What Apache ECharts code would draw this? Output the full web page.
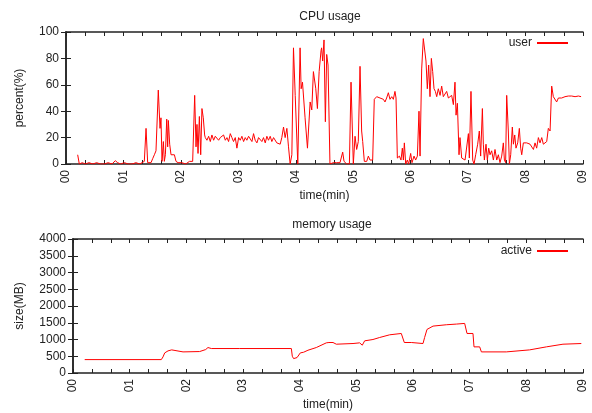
<!DOCTYPE html>
<html>
<head>
<meta charset="utf-8">
<script src="https://cdn.jsdelivr.net/npm/echarts@6/dist/echarts.min.js"></script>
<style>
  html, body { margin: 0; padding: 0; background: #fff; }
  #chart { width: 592px; height: 413px; }
</style>
</head>
<body>
<div id="chart"></div>
<script>
// time in seconds
const cpuTime = [
  12.2, 13.9, 17, 20, 24, 28, 32, 36, 40, 44, 48, 51.5, 54, 57, 61, 65, 69, 73, 77, 79.4,
  81.8, 83.6, 85.3, 87, 88.8, 90.5, 92.3, 94, 96.4, 98.2, 99.2, 100.3, 101.7, 102.7, 103.8, 105.2,
  106.2, 106.9, 108.3, 109.7, 111.4, 113.2, 114.9, 117, 119, 121, 123, 125, 127, 129, 132.3,
  134.4, 135.8, 136.8, 137.9, 139.3, 140.7, 142.0, 143.4, 144.8,
  145.5, 147.2, 149.0, 150.7, 152.4, 154.2, 155.9, 157.7, 159.4, 161.1, 162.9, 164.6, 166.4,
  168.1, 169.8, 171.6, 173.3, 175.0, 176.8, 178.5, 180.3, 182.0, 183.7, 185.5, 187.2, 188.9,
  190.7, 192.4, 194.2, 195.9, 197.6, 199.4, 201.1, 202.9, 204.6, 206.3, 208.1, 209.8, 211.5,
  213.3, 215.0, 216.8, 218.5, 220.2, 222.0, 223.7, 225.4, 227.2, 228.9, 230.7, 232.4, 234.1,
  235.9, 237.6, 239.4, 242.1, 244.5, 245.6, 247.0, 249.7, 252.2, 255.0, 256.7, 258.4, 260.9,
  262.6, 264.4, 266.4,
  267.0, 268.1, 269.5, 270.9, 272.3, 273.7, 275.7, 277.5, 279.2, 281, 282.7, 284.5, 286.2,
  287.9, 289, 290.4, 293.2, 296, 297.7, 300.1, 301.9, 303.6, 305.3, 307.1, 308.8, 309.9,
  311.6, 314.1, 315.8, 317.5, 320.3, 322, 324.5, 328, 331.5, 333.2, 334.9, 336.7, 338.4,
  340.2, 341.9, 343.6, 344.7, 346.1, 348.2, 349.9, 351.3, 352.4, 353.4, 354.8, 356.5, 357.9,
  360, 361.4, 363.5, 365.2, 367, 368.7, 369.8, 371.5, 373.2, 375, 376, 377.4, 378.8, 380.2,
  381.6, 383, 384.4, 385.8, 387.2, 388.9, 390.7, 392.4, 394.1, 395.9, 397.6, 399.4,
  401.1, 402.8, 404.6, 406.3, 407.4, 408.8, 410.5, 411.5, 413.3, 415, 416.8, 418.5, 420.3,
  421.3, 423, 424.8, 426.2, 427.9, 430, 431.7, 433.1, 434.9, 435.9, 437, 438.7, 440.1, 441.5,
  442.9, 444.6, 446.4, 448.1, 449.9, 451.6, 453.3, 455.1, 456.8, 457.9, 459.2, 460.3, 462,
  463.1, 464.5, 466.2, 467.3, 468.7, 470, 471.8, 473.5, 474.9, 476, 477.7, 479.4, 481.2,
  482.9, 484.7, 486.4, 488.2, 489.9, 491.6, 493.4, 495.1, 496.9, 498.6, 500.3, 502.1, 503.8,
  505.6, 507.3, 509, 510.8, 512.5, 514.3, 516, 517.7, 519.5, 521.2, 523, 524.7, 526.5, 528.2,
  529.9, 531.7, 535.2, 538
];
const cpuUser = [
  7, 0, 1, 0, 1, 0, 1, 0, 0, 1, 0, 2.5, 1, 0, 1, 0, 0, 1, 0, 1,
  2, 27, 1, 2, 1, 4, 7, 10, 56, 27, 35, 2, 17, 2, 7, 34,
  13, 33, 15, 7, 6, 7, 2, 1, 0, 1, 1, 0, 1, 2, 2,
  52, 13, 30, 8, 36, 7, 42, 35, 22,
  20, 18, 21, 17, 22, 18, 21, 20, 18, 20, 21, 22, 18,
  20, 17, 23, 20, 17, 20, 12, 20, 18, 21, 17, 20, 18,
  21, 20, 17, 23, 18, 16, 20, 21, 17, 20, 16, 21, 18,
  21, 17, 20, 21, 16, 17, 15, 20, 28, 20, 27, 13, 0,
  7, 88, 52, 0, 88, 57, 62, 35, 12, 47, 41, 70, 57,
  42, 70, 86,
  88, 78, 94, 32, 83, 75, 0, 0, 1, 0, 1, 0, 1,
  0, 9, 2, 0, 0, 62, 0, 21, 11, 17, 74, 25, 17,
  2, 2, 6, 3, 3, 49, 51, 50, 49, 47, 50, 54, 49,
  51, 49, 55, 50, 4.5, 6, 3, 12, 3, 16, 0, 3, 0,
  8, 1, 6, 3, 6, 40, 6, 72, 95, 94, 78, 57, 75, 51,
  80, 70, 57, 55, 51, 57, 52, 59, 51, 51, 55, 50,
  51, 52, 45, 62, 37, 46, 7, 20, 4.5, 6, 3, 4.5, 23,
  4.5, 55, 3, 0, 7, 15, 25, 6, 42, 15, 3, 15, 3, 12,
  7, 10, 3, 11, 3, 7, 1, 6, 16, 3, 1, 52, 25,
  0, 7, 28, 15, 22, 12, 16, 27, 12, 7, 16, 17, 16,
  17, 15, 16, 11, 16, 12, 20, 16, 20, 15, 16, 17, 27,
  25, 59, 51, 50, 47, 50, 49, 50, 49, 51, 50, 51.5, 51, 51.5,
  52, 51, 51.5, 51
];

const memTime = [
  12.4, 93.5, 95.3, 97.1, 100.6, 104.5, 105.9, 116.5, 134.1, 135.9, 140.5, 142.9, 146.5, 176.5,
  231.2, 232.2, 233.6, 237.2, 240.7, 244.2, 248.8, 257.6, 268.2, 271, 275.3, 278.8, 296.5,
  303.5, 306.3, 308.8, 317.6, 324.7, 335.3, 347.6, 349.4, 350.8, 358.2, 360, 370.6, 372.3,
  374.8, 381.2, 395.3, 405.9, 414.7, 417.2, 423.5, 424.6, 430.6, 432.4, 458.8, 483.5, 501.2,
  518.8, 538.2
];
const memActive = [
  400, 400, 480, 600, 660, 690, 680, 630, 640, 680, 700, 760, 730, 730,
  730, 500, 430, 460, 600, 620, 680, 760, 900, 910, 910, 860, 880,
  900, 830, 960, 1000, 1060, 1140, 1180, 1180, 910, 910, 880, 880, 1060,
  1300, 1400, 1440, 1460, 1480, 1180, 1180, 780, 780, 630, 630, 690, 780,
  860, 880
];

const minuteTicks = ['00', '01', '02', '03', '04', '05', '06', '07', '08', '09'];

const FONT = 'Liberation Sans';
const TXT = '#222';
const RED = '#ff0000';

function xAxes(grid) {
  const common = {
    type: 'value', gridIndex: grid, min: 0, max: 540, interval: 60,
    axisLine: { show: true, onZero: false, lineStyle: { color: '#222', width: 1.5 } },
    axisTick: { show: true, inside: true, length: 4, lineStyle: { color: '#222' } },
    minorTick: { show: true, splitNumber: 3, length: 4, lineStyle: { color: '#222' } },
    splitLine: { show: false }
  };
  return [
    Object.assign({}, common, {
      position: 'bottom',
      name: 'time(min)', nameLocation: 'middle', nameGap: 26,
      nameTextStyle: { fontFamily: FONT, fontSize: 12, color: TXT },
      axisLabel: {
        rotate: 90, margin: 6, fontFamily: FONT, fontSize: 12, color: TXT,
        formatter: v => minuteTicks[Math.round(v / 60)]
      }
    }),
    Object.assign({}, common, { position: 'top', axisLabel: { show: false } })
  ];
}

function yAxes(grid, max, interval, name, gap) {
  const common = {
    type: 'value', gridIndex: grid, min: 0, max: max, interval: interval,
    axisLine: { show: true, lineStyle: { color: '#222', width: 1.5 } },
    axisTick: { show: true, inside: true, length: 5, lineStyle: { color: '#222' } },
    splitLine: { show: false }
  };
  return [
    Object.assign({}, common, {
      position: 'left', name: name, nameLocation: 'middle', nameGap: gap,
      nameTextStyle: { fontFamily: FONT, fontSize: 12, color: TXT },
      axisLabel: { margin: 7, fontFamily: FONT, fontSize: 12, color: TXT, formatter: v => String(v) }
    }),
    Object.assign({}, common, { position: 'right', axisLabel: { show: false } })
  ];
}

const chart = echarts.init(document.getElementById('chart'), null, { renderer: 'canvas' });

const xa = xAxes(0).concat(xAxes(1));
const ya = yAxes(0, 100, 20, 'percent(%)', 40).concat(yAxes(1, 4000, 500, 'size(MB)', 47));

const legendBase = {
  orient: 'vertical', align: 'right', right: 19,
  icon: 'rect', itemWidth: 31, itemHeight: 2, itemGap: 4,
  textStyle: { fontFamily: FONT, fontSize: 12, color: TXT }
};

chart.setOption({
  animation: false,
  title: [
    { text: 'CPU usage', left: 325, top: 6, textAlign: 'center',
      textStyle: { fontFamily: FONT, fontSize: 12, fontWeight: 'normal', color: TXT } },
    { text: 'memory usage', left: 327, top: 214, textAlign: 'center',
      textStyle: { fontFamily: FONT, fontSize: 12, fontWeight: 'normal', color: TXT } }
  ],
  legend: [
    Object.assign({ top: 32, data: ['user'] }, legendBase),
    Object.assign({ top: 240, data: ['active'] }, legendBase)
  ],
  grid: [
    { left: 66, right: 9, top: 32, height: 132 },
    { left: 73, right: 9, top: 239, height: 134 }
  ],
  xAxis: xa,
  yAxis: ya,
  series: [
    {
      name: 'user', type: 'line', xAxisIndex: 0, yAxisIndex: 0,
      symbol: 'none', lineStyle: { color: RED, width: 1 }, itemStyle: { color: RED },
      data: cpuTime.map((t, i) => [t, cpuUser[i]])
    },
    {
      name: 'active', type: 'line', xAxisIndex: 2, yAxisIndex: 2,
      symbol: 'none', lineStyle: { color: RED, width: 1 }, itemStyle: { color: RED },
      data: memTime.map((t, i) => [t, memActive[i]])
    }
  ]
});
</script>
</body>
</html>
